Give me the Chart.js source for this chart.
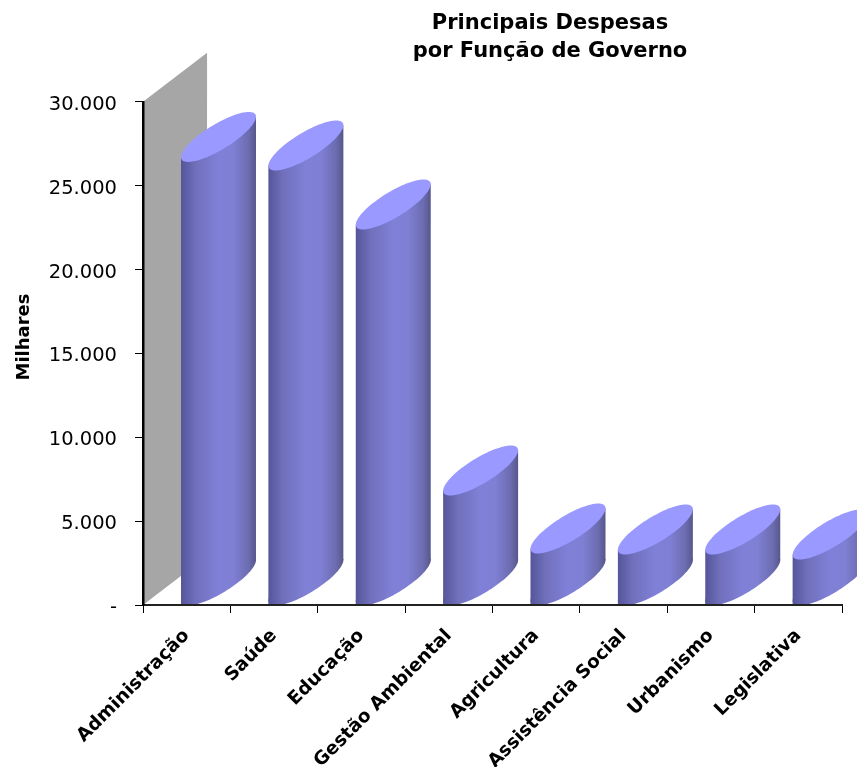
<!DOCTYPE html>
<html><head><meta charset="utf-8">
<style>html,body{margin:0;padding:0;background:#fff}canvas{display:block}</style>
<script src="https://cdn.jsdelivr.net/npm/chart.js@4"></script>
</head><body>
<canvas id="c" width="857" height="767"></canvas>
<script>
const categories = ['Administração','Saúde','Educação','Gestão Ambiental','Agricultura','Assistência Social','Urbanismo','Legislativa'];
const values = [26420,25910,22390,6530,3070,3010,3010,2710];
const titleLines = ['Principais Despesas','por Função de Governo'];
const yAxisLabel = 'Milhares';
const yTicksMax = 30000, yTicksStep = 5000;

const FONT = '"DejaVu Sans", sans-serif';
const cyl = {
  offsetRatio: -0.065, widthRatio: 0.858, // cylinder extent relative to the category band
  halfH: 25, phi: 36 * Math.PI / 180
};
function ellipsePath(ctx, cx, cy, a) {
  ctx.beginPath();
  for (let i = 0; i <= 90; i++) {
    const t = i / 90 * Math.PI * 2;
    const x = cx + a * Math.cos(t), y = cy - cyl.halfH * Math.cos(t - cyl.phi);
    i ? ctx.lineTo(x, y) : ctx.moveTo(x, y);
  }
  ctx.closePath();
}
let labelsNudged = false;
const scene = {
  id: 'scene',
  afterLayout(chart) { chart.titleBlock.left = 243; chart.titleBlock.right = 857; },
  beforeDraw(chart) {
    if (labelsNudged) return;
    labelsNudged = true;
    chart.scales.y.getLabelItems(chart.chartArea).forEach(it => { it.options.translation[1] += 3; });
  },
  beforeDatasetsDraw(chart) {
    const { ctx, scales: { x, y } } = chart;
    const band = x.width / categories.length;
    const dx = band * 0.733, dy = dx * 0.766;
    const x0 = x.left, yT = y.getPixelForValue(yTicksMax), yB = y.getPixelForValue(0);
    ctx.save();
    ctx.fillStyle = '#a6a6a6';
    ctx.beginPath();
    ctx.moveTo(x0, yT); ctx.lineTo(x0 + dx, yT - dy); ctx.lineTo(x0 + dx, yB - dy); ctx.lineTo(x0, yB);
    ctx.closePath(); ctx.fill();
    ctx.restore();
    ctx.save();
    ctx.translate(24.5, 337); ctx.rotate(-Math.PI / 2);
    ctx.font = 'bold 18px ' + FONT; ctx.fillStyle = '#000';
    ctx.textAlign = 'center'; ctx.textBaseline = 'middle';
    ctx.fillText(yAxisLabel, 0, 0);
    ctx.restore();
  },
  beforeDatasetDraw(chart, args) {
    const { ctx } = chart;
    args.meta.data.forEach(el => {
      const p = el.getProps(['x', 'y', 'base', 'width'], true);
      const left = p.x + p.width * cyl.offsetRatio;
      const w = p.width * cyl.widthRatio, a = w / 2, cx = left + a;
      const ex = cyl.halfH * Math.cos(cyl.phi);
      const cyTop = p.y - cyl.halfH, cyBot = p.base - 24;
      const g = ctx.createLinearGradient(left, 0, left + w, 0);
      g.addColorStop(0, '#55559a'); g.addColorStop(0.2, '#7070bc');
      g.addColorStop(0.5, '#8080d8'); g.addColorStop(0.7, '#7f7fd4');
      g.addColorStop(0.9, '#6c6cb0'); g.addColorStop(1, '#57578c');
      ctx.save();
      ctx.beginPath(); ctx.rect(left - 1, 0, w + 2, p.base); ctx.clip();
      ctx.fillStyle = g;
      ctx.beginPath();
      ctx.moveTo(left, cyTop + ex); ctx.lineTo(left + w, cyTop - ex);
      ctx.lineTo(left + w, cyBot - ex); ctx.lineTo(left + a * 0.4, p.base); ctx.lineTo(left, p.base); ctx.closePath();
      ctx.fill();
      ellipsePath(ctx, cx, cyBot, a); ctx.fill();
      ctx.fillStyle = '#9999ff';
      ellipsePath(ctx, cx, cyTop, a); ctx.fill();
      ctx.restore();
    });
    return false;
  }
};
new Chart(document.getElementById('c'), {
  type: 'bar',
  data: { labels: categories, datasets: [{ label: yAxisLabel, data: values, backgroundColor: '#8080d8', barPercentage: 1, categoryPercentage: 1 }] },
  plugins: [scene],
  options: {
    responsive: false, animation: false, devicePixelRatio: 1,
    layout: { padding: { right: 15, left: 0, top: 0, bottom: 0 } },
    plugins: {
      legend: { display: false }, tooltip: { enabled: false },
      title: { display: true, text: titleLines, color: '#000', font: { family: FONT, size: 21, weight: 'bold', lineHeight: 1.33 }, padding: { top: 10, bottom: 36 } }
    },
    scales: {
      x: {
        afterFit(s) { s.height = 162; },
        grid: { offset: true, drawOnChartArea: false, drawTicks: true, tickLength: 8, tickColor: '#000', tickWidth: 1, z: 1 },
        border: { color: '#222', width: 2, z: 1 },
        ticks: { autoSkip: false, minRotation: 45, maxRotation: 45, color: '#000', padding: 12, font: { family: FONT, size: 18.5, weight: 'bold' } }
      },
      y: {
        min: 0, max: yTicksMax,
        afterFit(s) { s.width = 143; },
        grid: { drawOnChartArea: false, drawTicks: true, tickLength: 8, tickColor: '#000', tickWidth: 1, z: 1 },
        border: { color: '#000', width: 2.5, z: 1 },
        ticks: {
          stepSize: yTicksStep, color: '#000', padding: 18, font: { family: FONT, size: 19.5 },
          callback: v => v === 0 ? '-' : String(v).replace(/(\d)(\d{3})$/, '$1.$2')
        }
      }
    }
  }
});
</script>
</body></html>
